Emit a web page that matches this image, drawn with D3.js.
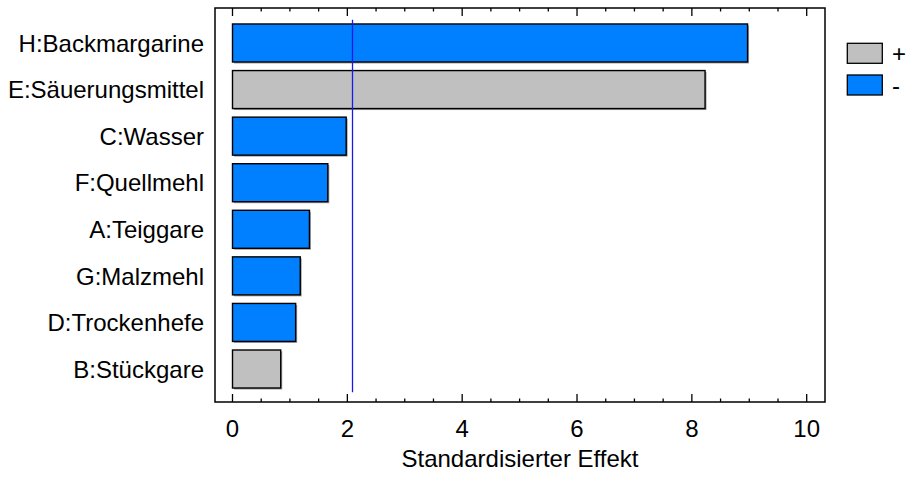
<!DOCTYPE html>
<html>
<head>
<meta charset="utf-8">
<script src="https://cdn.jsdelivr.net/npm/d3@7"></script>
<style>
  html, body { margin: 0; padding: 0; background: #fff; }
  svg { display: block; font-family: Arial, "Liberation Sans", sans-serif; }
</style>
</head>
<body>
<svg id="chart" width="906" height="477"></svg>
<script>
// Pareto chart of standardized effects
const factors = ["H:Backmargarine", "E:Säuerungsmittel", "C:Wasser", "F:Quellmehl",
                 "A:Teiggare", "G:Malzmehl", "D:Trockenhefe", "B:Stückgare"];
const effects = [8.97, 8.23, 1.98, 1.66, 1.34, 1.18, 1.10, 0.84];
const signs   = ["-", "+", "-", "-", "-", "-", "-", "+"];
const xTicks  = [0, 2, 4, 6, 8, 10];
const criticalValue = 2.09;
const legendItems = ["+", "-"];

const colors = { "+": "#c0c0c0", "-": "#0080ff" };
const fontSize = 24;

const svg = d3.select("#chart");
const frame = { left: 215, right: 825, top: 8, bottom: 402 };

const x = d3.scaleLinear().domain([0, 10]).range([232.5, 806.7]);
const y = d3.scaleBand().domain(factors).range([19.7, 392.3])
  .paddingInner(0.184).paddingOuter(0.092);

// bars with a faint drop shadow
const rows = factors.map((f, i) => ({ f, v: effects[i], s: signs[i] }));
svg.append("g").selectAll("rect").data(rows).join("rect")
  .attr("x", x(0) + 1.5).attr("y", d => y(d.f) + 1.5)
  .attr("width", d => x(d.v) - x(0)).attr("height", y.bandwidth())
  .attr("fill", "#a0a0a0");
svg.append("g").selectAll("rect").data(rows).join("rect")
  .attr("x", x(0)).attr("y", d => y(d.f))
  .attr("width", d => x(d.v) - x(0)).attr("height", y.bandwidth())
  .attr("fill", d => colors[d.s]).attr("stroke", "#000").attr("stroke-width", 1.4);

// critical value line
svg.append("line")
  .attr("x1", x(criticalValue)).attr("x2", x(criticalValue))
  .attr("y1", y.range()[0]).attr("y2", y.range()[1])
  .attr("stroke", "#1a1ae6").attr("stroke-width", 1.3);

// frame
svg.append("rect")
  .attr("x", frame.left).attr("y", frame.top)
  .attr("width", frame.right - frame.left).attr("height", frame.bottom - frame.top)
  .attr("fill", "none").attr("stroke", "#000").attr("stroke-width", 1.5);

// ticks on top and bottom edges (major every 2, minor every 0.5)
const minor = d3.range(0, 10.001, 0.5);
const tickG = svg.append("g").attr("stroke", "#000").attr("stroke-width", 1.3);
minor.forEach(v => {
  const major = Math.abs(v % 2) < 1e-9;
  const len = major ? 8 : 3.5;
  tickG.append("line").attr("x1", x(v)).attr("x2", x(v))
    .attr("y1", frame.bottom).attr("y2", frame.bottom - len);
  tickG.append("line").attr("x1", x(v)).attr("x2", x(v))
    .attr("y1", frame.top).attr("y2", frame.top + len);
});

// tick labels
svg.append("g").selectAll("text").data(xTicks).join("text")
  .attr("x", d => x(d)).attr("y", 436.5)
  .attr("text-anchor", "middle").attr("font-size", fontSize).attr("fill", "#000")
  .text(d => d);

// axis title
svg.append("text")
  .attr("x", (frame.left + frame.right) / 2).attr("y", 467)
  .attr("text-anchor", "middle").attr("font-size", fontSize).attr("fill", "#000")
  .text("Standardisierter Effekt");

// category labels
svg.append("g").selectAll("text").data(factors).join("text")
  .attr("x", 204).attr("y", d => y(d) + y.bandwidth() / 2)
  .attr("dy", "0.36em")
  .attr("text-anchor", "end").attr("font-size", fontSize).attr("fill", "#000")
  .text(d => d);

// legend
const lg = svg.append("g");
legendItems.forEach((s, i) => {
  const top = 43.3 + i * 31.7;
  lg.append("rect").attr("x", 847.3).attr("y", top).attr("width", 35).attr("height", 20)
    .attr("fill", colors[s]).attr("stroke", "#000").attr("stroke-width", 1.3);
  lg.append("text").attr("x", 892).attr("y", top + 10).attr("dy", "0.36em")
    .attr("font-size", fontSize).attr("fill", "#000").text(s);
});
</script>
</body>
</html>
